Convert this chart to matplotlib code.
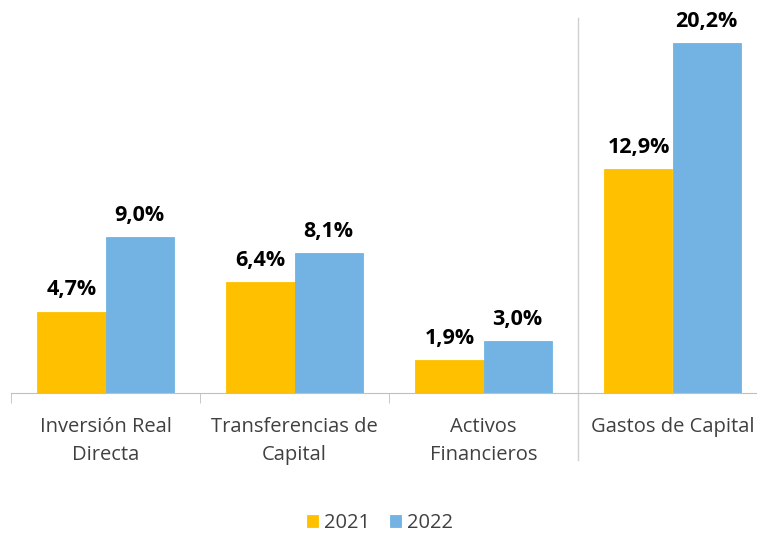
import matplotlib.pyplot as plt
import numpy as np

categories = ["Inversión Real\nDirecta", "Transferencias de\nCapital", "Activos\nFinancieros", "Gastos de Capital"]
series_names = ["2021", "2022"]
v2021 = [4.7, 6.4, 1.9, 12.9]
v2022 = [9.0, 8.1, 3.0, 20.2]
colors = ["#FFC000", "#72B3E3"]

W, H = 757, 537
fig = plt.figure(figsize=(W/100, H/100), dpi=100)
ax = fig.add_axes([11/W, 144/H, 756/W, 375/H])
plt.rcParams['font.family'] = ['Open Sans', 'DejaVu Sans']
FAM = ['Open Sans', 'DejaVu Sans']

x = np.arange(len(categories))
bw = 0.36
b1 = ax.bar(x - bw/2, v2021, bw, color=colors[0], label=series_names[0], linewidth=0.6, edgecolor=colors[0])
b2 = ax.bar(x + bw/2, v2022, bw, color=colors[1], label=series_names[1], linewidth=0.6, edgecolor=colors[1])

for bars, vals in ((b1, v2021), (b2, v2022)):
    for r, v in zip(bars, vals):
        ax.annotate(f"{v:.1f}".replace('.', ',') + "%",
                    (r.get_x() + r.get_width()/2, r.get_height()),
                    xytext=(0, 8), textcoords='offset points', ha='center', va='bottom',
                    fontsize=15.5, fontweight='bold', color='black', family=FAM)

ax.set_xlim(-0.5, 3.5)
ax.set_ylim(0, 21.64)
for s in ['top', 'right', 'left']:
    ax.spines[s].set_visible(False)
ax.spines['bottom'].set_color('#BFBFBF')
ax.set_yticks([])
ax.set_xticks(x)
ax.set_xticklabels(categories, fontsize=14.5, color='#404040', family=FAM, linespacing=1.55)
ax.tick_params(axis='x', which='major', length=0, pad=17)
ax.set_xticks([-0.5, 0.5, 1.5], minor=True)
ax.tick_params(axis='x', which='minor', length=7, color='#BFBFBF', direction='out')

ax.plot([2.5, 2.5], [-(460-393)/375, 1.0], transform=ax.get_xaxis_transform(),
        color='#D0D0D0', lw=1, clip_on=False)

leg = fig.legend(handles=[b1, b2], labels=series_names, loc='center', bbox_to_anchor=(380/W, 1 - 523/H),
                 ncol=2, frameon=False, handlelength=0.55, handleheight=0.55,
                 columnspacing=1.0, handletextpad=0.3, prop={'family': FAM, 'size': 14.5})
for t in leg.get_texts():
    t.set_color('#404040')

fig.savefig('out.png', dpi=100)
